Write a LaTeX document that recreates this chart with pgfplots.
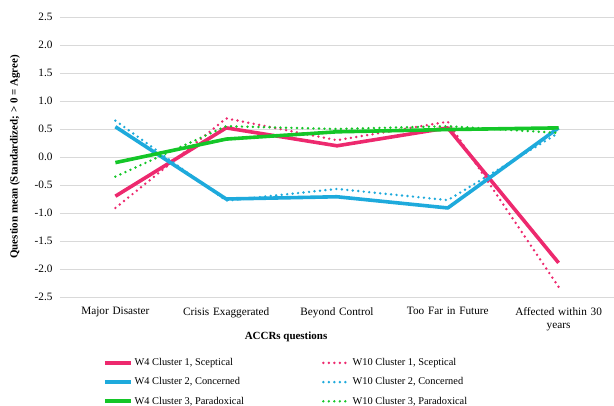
\documentclass[border=0pt]{standalone}
\usepackage{pgfplots}
\pgfplotsset{compat=1.18}
\usepackage{fontspec}
\setmainfont{Liberation Serif}
\definecolor{cred}{RGB}{237,41,110}
\definecolor{cblue}{RGB}{30,170,220}
\definecolor{cgreen}{RGB}{20,198,40}
\begin{document}
\begin{tikzpicture}
\path[use as bounding box] (-60bp,-109bp) rectangle (554bp,297bp);
\begin{axis}[
  at={(0,0)}, anchor=south west,
  scale only axis, width=554bp, height=280bp,
  xmin=-0.5, xmax=4.5, ymin=-2.5, ymax=2.5,
  axis line style={draw=none},
  tick style={draw=none},
  ymajorgrids, grid style={color=black!15, line width=0.8pt},
  xtick={0,1,2,3,4},
  xticklabels={Major Disaster,Crisis Exaggerated,Beyond Control,Too Far in Future,{Affected within 30\\years}},
  xticklabel style={align=center, text width=105bp, yshift=-7bp},
  ytick={-2.5,-2,-1.5,-1,-0.5,0,0.5,1,1.5,2,2.5},
  yticklabels={-2.5,-2.0,-1.5,-1.0,-0.5,0.0,0.5,1.0,1.5,2.0,2.5},
  yticklabel style={xshift=-4bp},
  ticklabel style={font=\fontsize{11.3}{12.8}\selectfont},
  xlabel={\textbf{ACCRs questions}},
  xlabel style={at={(axis description cs:0.408,-0.143)}, anchor=center, font=\fontsize{11}{13}\selectfont},
  ylabel={\textbf{Question mean (Standardized; > 0 = Agree)}},
  ylabel style={at={(axis description cs:-0.081,0.5)}, anchor=center, font=\fontsize{11}{13}\selectfont},
  legend columns=2,
  legend style={draw=none, fill=none, at={(axis description cs:0.072,-0.205)}, anchor=north west,
    font=\fontsize{10.4}{12}\selectfont, row sep=6.5bp,
    /tikz/every even column/.append style={column sep=76bp}},
  legend cell align=left,
  legend image code/.code={\draw[#1] (0bp,0bp) -- (26bp,0bp);},
]
\addplot[cred, line width=3.6bp, line join=round] coordinates {(0,-0.70) (1,0.52) (2,0.20) (3,0.52) (4,-1.89)};
\addlegendentry{W4 Cluster 1, Sceptical}
\addplot[cred, line width=2.7bp, line cap=round, dash pattern=on 0bp off 5.5bp] coordinates {(0,-0.91) (1,0.69) (2,0.30) (3,0.63) (4,-2.32)};
\addlegendentry{W10 Cluster 1, Sceptical}
\addplot[cblue, line width=3.6bp, line join=round] coordinates {(0,0.54) (1,-0.75) (2,-0.71) (3,-0.91) (4,0.52)};
\addlegendentry{W4 Cluster 2, Concerned}
\addplot[cblue, line width=2.7bp, line cap=round, dash pattern=on 0bp off 5.5bp] coordinates {(0,0.65) (1,-0.78) (2,-0.57) (3,-0.77) (4,0.43)};
\addlegendentry{W10 Cluster 2, Concerned}
\addplot[cgreen, line width=3.6bp, line join=round] coordinates {(0,-0.10) (1,0.32) (2,0.45) (3,0.49) (4,0.52)};
\addlegendentry{W4 Cluster 3, Paradoxical}
\addplot[cgreen, line width=2.7bp, line cap=round, dash pattern=on 0bp off 5.5bp] coordinates {(0,-0.35) (1,0.55) (2,0.50) (3,0.55) (4,0.43)};
\addlegendentry{W10 Cluster 3, Paradoxical}
\end{axis}
\end{tikzpicture}
\end{document}
